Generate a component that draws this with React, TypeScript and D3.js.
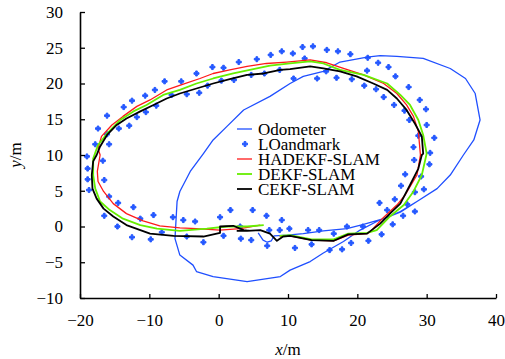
import { useRef, useEffect } from 'react';
import * as d3 from 'd3';

type Pt = [number, number];

// trajectories, metres
const odometer: Pt[] = [
  [5.7, -0.9], [6.4, -1.9], [7.0, -2.2], [7.6, -2.0], [8.0, -1.3], [9.9, -1.2], [12.2, -1.0],
  [15.1, -0.6], [18.5, -0.3], [20.9, 0.3], [23.8, 1.1], [26.2, 2.0], [28.6, 3.5], [31.5, 5.3],
  [33.4, 7.2], [35.3, 10.0], [36.8, 12.1], [37.7, 14.9], [37.0, 18.6], [35.6, 20.7], [33.4, 22.1],
  [29.5, 23.5], [25.7, 23.8], [23.3, 23.9], [21.4, 23.7], [17.5, 23.0], [15.1, 21.7], [12.2, 21.0],
  [10.3, 20.0], [7.4, 18.2], [3.6, 16.3], [1.2, 14.0], [-0.8, 12.1], [-2.2, 10.2], [-4.1, 7.7],
  [-5.6, 4.9], [-6.0, 3.5], [-6.3, -1.7], [-5.6, -4.0], [-3.7, -5.4], [-3.2, -6.3], [-0.8, -7.0],
  [4.1, -7.7], [8.9, -7.0], [10.3, -6.1], [13.2, -4.9], [15.1, -3.7], [18.0, -2.1], [20.4, -0.5],
  [22.8, 0.7], [26.2, 2.1], [28.6, 3.5],
];

const landmarks: Pt[] = [
  [9.1, 24.5], [7.5, 24.0], [5.5, 23.4], [2.9, 23.0], [0.7, 22.2], [-0.9, 22.3], [-3.2, 21.4],
  [-5.4, 20.3], [-7.8, 20.3], [-9.2, 19.1], [-10.6, 18.3], [-12.5, 17.6], [-13.7, 16.7],
  [-16.1, 15.5], [-17.4, 13.7], [-17.8, 11.5],
  [8.8, 21.9], [6.6, 21.4], [4.7, 21.2], [2.2, 20.5], [0.4, 20.4], [-1.6, 19.7], [-2.8, 18.7],
  [-4.6, 18.5], [-6.8, 18.4], [-9.0, 16.9], [-10.5, 16.0], [-11.8, 15.3], [-12.9, 14.1],
  [-14.4, 13.7], [-15.8, 11.5], [-16.1, 12.9], [-16.7, 9.2],
  [10.7, 24.2], [12.1, 25.1], [13.6, 25.2], [15.6, 24.7], [17.2, 24.5], [19.0, 24.1], [21.5, 23.6],
  [23.0, 22.9], [24.5, 22.3], [25.5, 21.0], [27.4, 19.5], [29.0, 17.7], [29.9, 16.4], [30.0, 14.2],
  [31.1, 12.4], [30.5, 10.3],
  [10.8, 20.7], [12.4, 23.5], [14.2, 20.7], [15.5, 21.7], [17.0, 20.8], [19.2, 20.6], [21.4, 21.8],
  [21.0, 19.7], [22.7, 19.2], [23.8, 18.1], [25.3, 17.0], [26.8, 16.2], [27.5, 14.9], [28.8, 12.7],
  [28.1, 11.1],
  [-19.0, 9.8], [-18.9, 8.1], [-18.9, 6.6], [-18.7, 5.1], [-16.5, 6.5], [-15.8, 4.2], [-14.5, 3.3],
  [-16.5, 1.5], [-14.6, 0.0], [-12.3, 2.7], [-11.3, 1.1], [-12.5, -1.5], [-9.4, 1.6], [-9.8, -1.8],
  [-8.2, -0.8], [-6.6, 1.3], [-5.1, 0.9], [-3.4, 0.7], [-4.6, -1.4], [-2.2, -2.2], [0.2, 1.3],
  [1.7, 2.3], [0.7, -1.3], [3.1, 0.0], [3.2, -1.7], [4.9, 2.3], [4.7, -1.9], [6.9, 1.5], [7.3, -0.5],
  [7.0, -2.7], [8.8, -0.5], [9.1, 0.9], [10.2, -0.3],
  [11.0, -3.0], [12.9, -0.5], [13.4, -2.5], [14.5, -0.5], [16.0, -3.3], [16.6, -1.0], [17.8, -3.2],
  [18.5, 0.0], [19.1, -2.3], [20.8, 0.0], [21.6, -2.0], [23.5, -1.1], [23.2, 3.3], [24.3, 2.3],
  [25.1, 0.3], [25.4, 3.8], [26.6, 1.5], [26.3, 5.7], [27.2, 3.1], [26.9, 7.3], [28.3, 2.1],
  [28.2, 9.3], [28.3, 4.8], [29.2, 7.0], [29.6, 5.2], [30.4, 8.7],
];

const hadekf: Pt[] = [
  [6.0, 0.2], [3.1, -0.3], [0.2, -0.5], [-3.2, -0.3], [-5.6, -0.2], [-8.5, 0.1], [-10.9, 0.8],
  [-13.3, 1.8], [-15.2, 3.2], [-16.6, 4.9], [-17.4, 6.3], [-17.5, 7.7], [-17.1, 10.0], [-17.4, 10.9],
  [-16.9, 12.6], [-15.4, 14.2], [-13.8, 15.4], [-11.8, 16.8], [-9.9, 17.7], [-7.5, 19.1],
  [-5.1, 19.9], [-2.7, 20.7], [-0.8, 21.4], [1.6, 21.9], [4.1, 22.4], [6.9, 22.8], [9.8, 23.0],
  [13.2, 23.3], [15.6, 22.9], [18.0, 22.1], [20.9, 21.2], [23.8, 20.0], [25.7, 18.6], [27.1, 17.0],
  [28.1, 15.4], [28.8, 13.3], [29.1, 10.0], [28.6, 7.2], [26.9, 4.4], [25.7, 3.0], [23.7, 1.2],
  [21.8, -0.8], [21.4, -1.0], [18.7, -1.2], [16.6, -2.0], [13.4, -1.9], [10.3, -1.3], [8.8, -1.4],
];

const dekf: Pt[] = [
  [6.5, 0.2], [4.1, 0.0], [1.2, 0.0], [-1.7, -0.3], [-5.6, -0.6], [-8.9, -0.3], [-11.3, 0.2],
  [-13.8, 1.1], [-15.7, 2.3], [-17.1, 3.5], [-17.8, 5.3], [-18.1, 7.2], [-18.1, 9.5], [-17.4, 11.4],
  [-16.1, 13.0], [-14.2, 14.9], [-12.3, 16.1], [-10.4, 17.0], [-8.0, 18.4], [-5.6, 19.1],
  [-3.2, 20.0], [-0.8, 20.7], [2.1, 21.4], [5.0, 22.0], [7.4, 22.5], [10.3, 22.8], [13.2, 23.1],
  [15.1, 22.8], [17.5, 21.9], [20.9, 21.2], [24.3, 20.0], [26.2, 18.4], [27.6, 17.0], [28.8, 14.9],
  [29.5, 12.8], [30.0, 10.2], [29.3, 7.2], [28.1, 4.9], [26.7, 3.0], [24.7, 1.4], [22.8, -0.5],
  [21.4, -0.9], [18.7, -1.0], [16.6, -1.8], [13.4, -1.8], [10.3, -1.2], [8.8, -1.3],
];

const cekf: Pt[] = [
  [2.6, -0.6], [4.1, -0.6], [6.0, -0.5], [7.4, -1.0], [8.4, -2.0], [9.3, -1.4], [10.3, -1.3],
  [13.4, -1.9], [16.6, -2.0], [18.7, -1.1], [21.4, -1.0], [23.3, 0.4], [24.7, 1.8], [26.2, 3.2],
  [27.6, 5.8], [28.8, 8.1], [29.3, 10.0], [29.5, 10.2], [29.3, 12.6], [28.3, 14.4], [27.1, 16.3],
  [25.7, 17.9], [24.3, 19.1], [22.3, 20.0], [19.9, 21.0], [17.5, 21.7], [15.1, 22.1], [13.2, 22.4],
  [10.3, 22.0], [8.9, 21.9], [6.5, 21.4], [4.1, 21.2], [1.6, 20.6], [-0.8, 20.0], [-3.2, 19.3],
  [-5.6, 18.6], [-7.5, 17.9], [-9.4, 17.0], [-11.3, 16.1], [-13.3, 15.1], [-14.7, 14.2],
  [-16.1, 12.8], [-17.1, 11.2], [-17.6, 10.0], [-18.1, 9.1], [-18.3, 7.2], [-18.2, 5.3],
  [-17.6, 3.9], [-16.6, 2.5], [-15.2, 1.4], [-13.3, 0.2], [-11.3, -0.5], [-9.9, -1.0], [-6.5, -1.3],
  [-2.2, -1.4], [0.2, -0.9], [0.2, 0.0], [2.1, 0.1], [3.6, -0.5], [4.5, -0.6],
];

const xTicks = [-20, -10, 0, 10, 20, 30, 40];
const yTicks = [-10, -5, 0, 5, 10, 15, 20, 25, 30];

const legendNames = ['Odometer', 'LOandmark', 'HADEKF-SLAM', 'DEKF-SLAM', 'CEKF-SLAM'];
const BLUE = '#1f4fff';
const DOT = '#2458ff';
const RED = '#ff1a1a';
const GREEN = '#66ee00';
const FONT = '"Liberation Serif", "Times New Roman", serif';

export default function App() {
  const svgRef = useRef<SVGSVGElement>(null);

  useEffect(() => {
    if (!svgRef.current) return;
    const svg = d3.select(svgRef.current);
    svg.selectAll('*').remove();

    const x = d3.scaleLinear().domain([-20, 40]).range([80, 496]);
    const y = d3.scaleLinear().domain([-10, 30]).range([298, 12]);
    const line = d3.line<Pt>().x((d) => x(d[0])).y((d) => y(d[1]));

    const series: { data: Pt[]; color: string; width: number }[] = [
      { data: odometer, color: BLUE, width: 1.3 },
      { data: hadekf, color: RED, width: 1.3 },
      { data: dekf, color: GREEN, width: 1.8 },
      { data: cekf, color: '#000', width: 1.8 },
    ];

    const sym = d3.symbol().type(d3.symbolCross).size(14);
    const drawMark = (sel: d3.Selection<SVGPathElement, unknown, null, undefined>) =>
      sel.attr('d', sym).attr('fill', DOT).attr('stroke', DOT).attr('stroke-width', 1).attr('stroke-linejoin', 'round');

    svg
      .append('g')
      .selectAll('path')
      .data(landmarks)
      .join('path')
      .attr('transform', (d) => `translate(${x(d[0])},${y(d[1])})`)
      .attr('d', sym)
      .attr('fill', DOT)
      .attr('stroke', DOT)
      .attr('stroke-width', 1)
      .attr('stroke-linejoin', 'round');

    series.forEach((s) => {
      svg
        .append('path')
        .attr('d', line(s.data))
        .attr('fill', 'none')
        .attr('stroke', s.color)
        .attr('stroke-width', s.width)
        .attr('stroke-linejoin', 'round');
    });

    // axes, ticks pointing inward
    const gx = svg
      .append('g')
      .attr('transform', 'translate(0,298)')
      .call(d3.axisBottom(x).tickValues(xTicks).tickSizeInner(-4).tickSizeOuter(0).tickPadding(16));
    const gy = svg
      .append('g')
      .attr('transform', 'translate(80,0)')
      .call(d3.axisLeft(y).tickValues(yTicks).tickSizeInner(-5).tickSizeOuter(0).tickPadding(17));
    [gx, gy].forEach((g) => {
      g.attr('font-family', FONT).attr('font-size', 17);
      g.select('.domain').attr('stroke', '#000').attr('stroke-width', 1.6);
      g.selectAll('line').attr('stroke', '#000').attr('stroke-width', 1.3);
      g.selectAll('text').attr('fill', '#000');
    });

    const xt = svg
      .append('text')
      .attr('x', 288)
      .attr('y', 355)
      .attr('text-anchor', 'middle')
      .attr('font-family', FONT)
      .attr('font-size', 17);
    xt.append('tspan').attr('font-style', 'italic').text('x');
    xt.append('tspan').text('/m');

    const yt = svg
      .append('text')
      .attr('transform', 'translate(21,155) rotate(-90)')
      .attr('text-anchor', 'middle')
      .attr('font-family', FONT)
      .attr('font-size', 17);
    yt.append('tspan').attr('font-style', 'italic').text('y');
    yt.append('tspan').text('/m');

    // legend
    const colors = [BLUE, DOT, RED, GREEN, '#000'];
    const lg = svg.append('g').attr('transform', 'translate(237,129)');
    legendNames.forEach((name, i) => {
      const row = lg.append('g').attr('transform', `translate(0,${i * 15})`);
      if (i === 1) {
        drawMark(row.append('path').attr('transform', 'translate(8,0)'));
      } else {
        row
          .append('line')
          .attr('x1', 0)
          .attr('x2', 15)
          .attr('stroke', colors[i])
          .attr('stroke-width', i === 0 || i === 2 ? 1.3 : 1.8);
      }
      row
        .append('text')
        .attr('x', 21)
        .attr('dy', '0.35em')
        .attr('font-family', FONT)
        .attr('font-size', 17)
        .text(name);
    });
  }, []);

  return (
    <svg
      ref={svgRef}
      width={505}
      height={359}
      style={{ position: 'absolute', left: 0, top: 0, background: '#fff' }}
    />
  );
}
